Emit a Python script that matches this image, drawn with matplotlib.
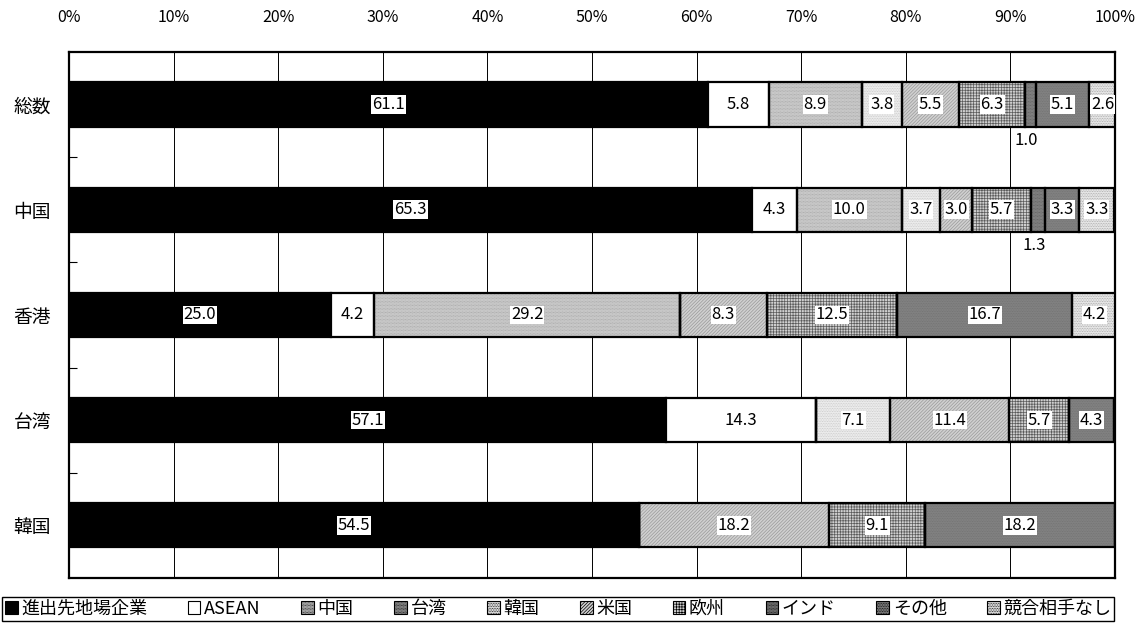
import matplotlib.pyplot as plt
import numpy as np
from matplotlib.patches import Patch

plt.rcParams["font.family"] = ["Noto Sans CJK JP", "DejaVu Sans"]
plt.rcParams["hatch.linewidth"] = 0.5

# ---------------------------------------------------------------------------
# Data (share of competitors, %)
# ---------------------------------------------------------------------------
regions = ["総数", "中国", "香港", "台湾", "韓国"]
series = ["進出先地場企業", "ASEAN", "中国", "台湾", "韓国",
          "米国", "欧州", "インド", "その他", "競合相手なし"]

local = [61.1, 65.3, 25.0, 57.1, 54.5]
asean = [5.8, 4.3, 4.2, 14.3, 0.0]
china = [8.9, 10.0, 29.2, 0.0, 0.0]
taiwan = [0.0, 0.0, 0.0, 0.0, 0.0]
korea = [3.8, 3.7, 0.0, 7.1, 0.0]
usa = [5.5, 3.0, 8.3, 11.4, 18.2]
europe = [6.3, 5.7, 12.5, 5.7, 9.1]
india = [1.0, 1.3, 0.0, 0.0, 0.0]
other = [5.1, 3.3, 16.7, 4.3, 18.2]
none_ = [2.6, 3.3, 4.2, 0.0, 0.0]

values = [local, asean, china, taiwan, korea, usa, europe, india, other, none_]

# fill style per series: (face, hatch, hatch colour)
styles = [
    ("#000000", None, None),
    ("#ffffff", None, None),
    ("#d6d6d6", "............", "#9c9c9c"),
    ("#a8a8a8", "............", "#6a6a6a"),
    ("#f0f0f0", "..........", "#c4c4c4"),
    ("#d0d0d0", "//////////", "#9a9a9a"),
    ("#cfcfcf", "++++++", "#5a5a5a"),
    ("#8c8c8c", "............", "#555555"),
    ("#838383", "..........", "#707070"),
    ("#eeeeee", "..........", "#a0a0a0"),
]

BAR_H = 0.42

fig = plt.figure(figsize=(11.37, 6.27), dpi=100)
ax = fig.add_axes([0.0607, 0.0782, 0.92, 0.839])

y = np.arange(len(regions))
left = np.zeros(len(regions))
for vals, (face, hatch, hcol) in zip(values, styles):
    vals = np.array(vals)
    if hatch:
        ax.barh(y, vals, left=left, height=BAR_H, color=face, hatch=hatch,
                edgecolor=hcol, linewidth=0, zorder=2)
        ax.barh(y, vals, left=left, height=BAR_H, fill=False,
                edgecolor="black", linewidth=1.6, zorder=3)
    else:
        ax.barh(y, vals, left=left, height=BAR_H, color=face,
                edgecolor="black", linewidth=1.6, zorder=3)
    for i, v in enumerate(vals):
        if v <= 0:
            continue
        cx = left[i] + v / 2
        if v < 2:
            # narrow segment: label sits under the bar
            ax.text(cx - 0.4, y[i] + 0.34, f"{v:.1f}", ha="center", va="center",
                    fontsize=12, zorder=5,
                    bbox=dict(facecolor="white", edgecolor="none", pad=0.3))
        else:
            ax.text(cx, y[i], f"{v:.1f}", ha="center", va="center",
                    fontsize=12, zorder=5,
                    bbox=dict(facecolor="white", edgecolor="none", pad=0.6))
    left += vals

ax.set_xlim(0, 100)
ax.set_ylim(len(regions) - 0.5, -0.5)
ax.set_xticks(np.arange(0, 101, 10))
ax.set_xticklabels([f"{t}%" for t in range(0, 101, 10)], fontsize=11.5)
ax.xaxis.tick_top()
ax.tick_params(axis="x", length=0, pad=19)
ax.grid(axis="x", color="black", linewidth=0.7, zorder=0)

ax.set_yticks(y)
ax.set_yticklabels(regions, fontsize=13.5)
ax.tick_params(axis="y", length=0, pad=13)
ax.set_yticks(np.arange(0.5, len(regions) - 0.5), minor=True)
ax.tick_params(axis="y", which="minor", direction="in", length=6, width=0.8)

for s in ax.spines.values():
    s.set_linewidth(1.6)

handles = [Patch(facecolor=f, hatch=h, edgecolor="black", linewidth=0.8)
           for f, h, _ in styles]
leg = fig.legend(handles, series, loc="center", ncol=10,
                 bbox_to_anchor=(0.002, 0.004, 0.978, 0.05), mode="expand",
                 fontsize=13, handlelength=0.7, handleheight=0.7,
                 handletextpad=0.2, columnspacing=0.5, borderpad=0.15,
                 fancybox=False, framealpha=1, borderaxespad=0)
leg.get_frame().set_edgecolor("black")
leg.get_frame().set_linewidth(1.0)

fig.savefig("out.png", dpi=100)
